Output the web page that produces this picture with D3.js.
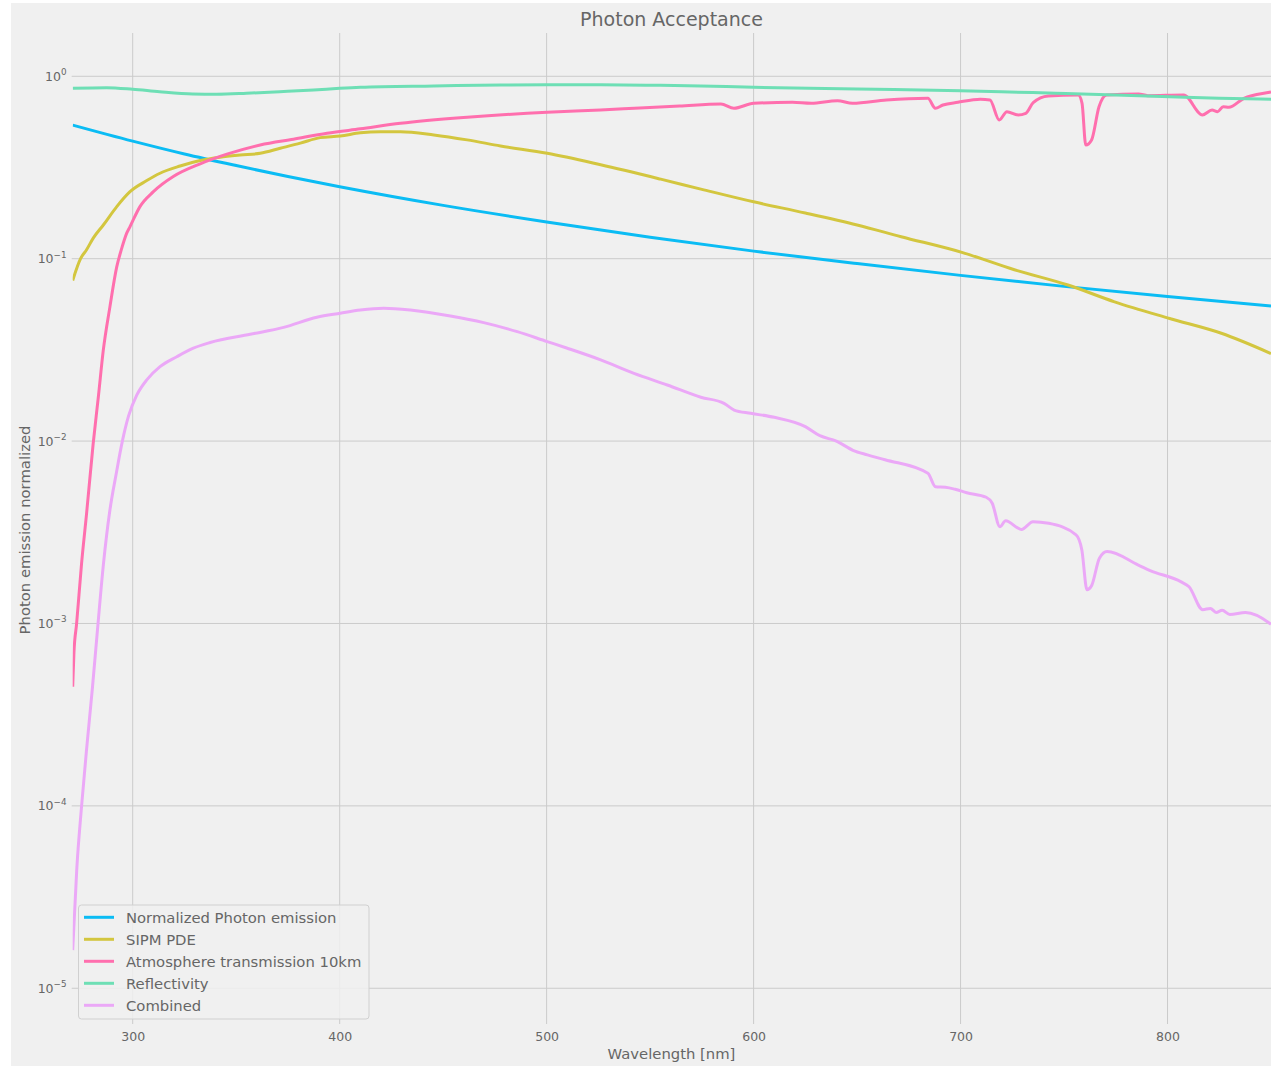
<!DOCTYPE html>
<html>
<head>
<meta charset="utf-8">
<script src="https://cdn.jsdelivr.net/npm/d3@7"></script>
<style>
  html, body { margin: 0; padding: 0; background: #ffffff; }
  svg { display: block; font-family: "DejaVu Sans", sans-serif; }
</style>
</head>
<body>
<svg id="chart" width="1271" height="1067"></svg>
<script>
// ---------------- DATA ----------------
const chartTitle = "Photon Acceptance";
const xLabel = "Wavelength [nm]";
const yLabel = "Photon emission normalized";
const xTickValues = [300, 400, 500, 600, 700, 800];
const yTickExponents = [0, -1, -2, -3, -4, -5];
const seriesNames = ["Normalized Photon emission", "SIPM PDE", "Atmosphere transmission 10km", "Reflectivity", "Combined"];
const seriesColors = ["#0bbcf4", "#d3c63f", "#ff6fae", "#6edfb5", "#eba8f7"];

// [wavelength nm, value]
const photonEmission = [
  [271, 0.540], [300, 0.441], [325, 0.375], [350, 0.324], [375, 0.282], [400, 0.248],
  [450, 0.196], [500, 0.159], [550, 0.131], [600, 0.110], [650, 0.094], [700, 0.081],
  [750, 0.0705], [800, 0.062], [850, 0.0550]
];
const sipmPDE = [
  [271, 0.076], [274.8, 0.100], [277.7, 0.112], [281, 0.130], [285.8, 0.153], [292.3, 0.193],
  [298.7, 0.233], [306.8, 0.268], [313.2, 0.294], [322.9, 0.322], [332.6, 0.345], [342.2, 0.360],
  [351.9, 0.370], [361.6, 0.378], [371.3, 0.403], [381, 0.430], [390.6, 0.461], [400.3, 0.470],
  [410, 0.490], [419.7, 0.497], [429.4, 0.497], [445.5, 0.477], [461.6, 0.448], [477.7, 0.415],
  [500.3, 0.378], [526.1, 0.327], [555.1, 0.273], [575, 0.240], [600, 0.205], [625, 0.178],
  [650, 0.153], [671.3, 0.132], [701, 0.108], [726, 0.087], [751.9, 0.0717], [774.4, 0.058],
  [801, 0.047], [826, 0.039], [850, 0.0302]
];
const atmosphere = [
  [271, 0.00045], [271.6, 0.00069], [272.9, 0.0010], [275.3, 0.00214], [277.7, 0.0040],
  [280.9, 0.0097], [283.4, 0.0175], [285.8, 0.0316], [289, 0.0546], [292.3, 0.0904],
  [294.5, 0.112], [297.1, 0.138], [298.7, 0.150], [303.5, 0.193], [310, 0.233], [319.6, 0.282],
  [332.6, 0.331], [345.5, 0.374], [361.6, 0.420], [377.7, 0.452], [393.9, 0.487], [410, 0.515],
  [429.4, 0.552], [461.6, 0.596], [500.3, 0.635], [526, 0.653], [545, 0.670], [564.2, 0.687],
  [584.2, 0.705], [590.5, 0.668], [600, 0.711], [618.7, 0.720], [627.8, 0.711], [640.5, 0.735],
  [647.8, 0.711], [664.2, 0.741], [684.2, 0.757], [687.8, 0.668], [691.5, 0.696], [698.7, 0.720],
  [709.6, 0.748], [714.2, 0.741], [718.7, 0.576], [722.4, 0.640], [727.8, 0.614], [731.5, 0.627],
  [735.1, 0.717], [742.4, 0.780], [756.9, 0.790], [758.7, 0.711], [760.5, 0.420], [763.3, 0.448],
  [766.9, 0.681], [770.5, 0.790], [786, 0.800], [790.5, 0.783], [807.8, 0.790], [816.9, 0.614],
  [821.5, 0.653], [824.2, 0.640], [826.9, 0.681], [829.6, 0.676], [836.9, 0.757], [849.3, 0.817],
  [850, 0.820]
];
const reflectivity = [
  [271, 0.859], [287.4, 0.866], [300, 0.849], [313, 0.823], [329, 0.800], [340.6, 0.797],
  [355, 0.807], [371, 0.823], [387.4, 0.841], [400, 0.859], [410, 0.870], [445.5, 0.885],
  [478, 0.896], [500, 0.900], [526, 0.900], [555, 0.893], [574.5, 0.885], [600, 0.870],
  [650, 0.852], [700, 0.834], [719.6, 0.823], [746, 0.807], [775, 0.790], [801, 0.773],
  [825, 0.758], [850, 0.748]
];
const combined = [
  [271, 1.62e-5], [273, 4.57e-5], [275.3, 1.0e-4], [277.7, 2.04e-4], [280.5, 4.4e-4],
  [283, 9.3e-4], [285.8, 2.09e-3], [289, 4.2e-3], [292, 6.6e-3], [295, 0.0100],
  [298, 0.01374], [302, 0.0179], [307, 0.0218], [313.2, 0.0256], [321.3, 0.0290], [329.3, 0.0323],
  [337.4, 0.0347], [356.8, 0.0385], [372.9, 0.0420], [389, 0.0477], [400.3, 0.0502],
  [410, 0.0523], [421.3, 0.0535], [434.2, 0.0523], [453.5, 0.0485], [469.6, 0.0446],
  [485.8, 0.0398], [500.3, 0.0351], [510, 0.0323], [526.1, 0.0279], [542.2, 0.0235],
  [558.3, 0.0203], [574.5, 0.0174], [585.7, 0.0161], [590.6, 0.0148], [598.6, 0.0142],
  [610, 0.0135], [625, 0.0120], [632, 0.0107], [640, 0.0100], [648, 0.0089], [655, 0.0084],
  [663.5, 0.0079], [684.2, 6.66e-3], [687.9, 5.62e-3], [692.7, 5.58e-3], [697.4, 5.44e-3],
  [703, 5.21e-3], [712.4, 4.92e-3], [715.3, 4.56e-3], [719, 3.39e-3], [721.8, 3.66e-3],
  [729.4, 3.28e-3], [735, 3.61e-3], [742.6, 3.54e-3], [755.8, 3.06e-3], [758.6, 2.53e-3],
  [761.1, 1.53e-3], [763.3, 1.61e-3], [767.1, 2.28e-3], [770.8, 2.48e-3], [785.9, 2.09e-3],
  [791.6, 1.95e-3], [806.6, 1.69e-3], [810.4, 1.59e-3], [817, 1.19e-3], [820.7, 1.21e-3],
  [823.5, 1.15e-3], [826.4, 1.18e-3], [830.1, 1.12e-3], [837.7, 1.15e-3], [849.5, 1.0e-3],
  [850, 0.99e-3]
];
const seriesData = [photonEmission, sipmPDE, atmosphere, reflectivity, combined];

// ---------------- LAYOUT ----------------
const W = 1271, H = 1067;
const plot = { left: 72.7, right: 1271, top: 33, bottom: 1020 };
const svg = d3.select("#chart");

// figure background
svg.append("rect").attr("x", 11).attr("y", 3).attr("width", W - 11).attr("height", 1063)
  .attr("fill", "#f0f0f0");

const x = d3.scaleLinear().domain([271, 850]).range([plot.left, plot.right]);
const y = d3.scaleLog().domain([6.7e-6, 1.727]).range([plot.bottom, plot.top]);

// grid
const grid = svg.append("g");
grid.selectAll("line.vx").data(xTickValues).enter().append("line")
  .attr("x1", d => x(d)).attr("x2", d => x(d))
  .attr("y1", plot.top).attr("y2", plot.bottom + 4)
  .attr("stroke", "#cbcbcb").attr("stroke-width", 1);
grid.selectAll("line.hy").data(yTickExponents).enter().append("line")
  .attr("x1", plot.left - 1).attr("x2", plot.right)
  .attr("y1", d => y(Math.pow(10, d))).attr("y2", d => y(Math.pow(10, d)))
  .attr("stroke", "#cbcbcb").attr("stroke-width", 1);

// x axis labels via d3 axis
const xAxis = d3.axisBottom(x).tickValues(xTickValues).tickSize(0).tickPadding(12);
const gx = svg.append("g").attr("transform", `translate(0,${plot.bottom})`).call(xAxis);
gx.select(".domain").remove();
gx.selectAll("text").attr("font-family", "DejaVu Sans, sans-serif")
  .attr("font-size", 12.5).attr("fill", "#666");

// y tick labels: 10^k
const sup = d => (d < 0 ? "\u2212" + Math.abs(d) : String(d));
const gy = svg.append("g");
yTickExponents.forEach(e => {
  const t = gy.append("text")
    .attr("x", 66.5).attr("y", y(Math.pow(10, e)) + 4.5)
    .attr("text-anchor", "end").attr("fill", "#666")
    .attr("font-size", 12.5);
  t.append("tspan").text("10");
  t.append("tspan").attr("dy", -5.5).attr("font-size", 8.8).text(sup(e));
});

// lines
svg.append("clipPath").attr("id", "clip").append("rect")
  .attr("x", plot.left).attr("y", plot.top)
  .attr("width", plot.right - plot.left).attr("height", plot.bottom - plot.top);
const line = d3.line().x(d => x(d[0])).y(d => y(d[1])).curve(d3.curveMonotoneX);
const lines = svg.append("g").attr("clip-path", "url(#clip)");
seriesData.forEach((s, i) => {
  lines.append("path").datum(s).attr("d", line)
    .attr("fill", "none").attr("stroke", seriesColors[i])
    .attr("stroke-width", 3).attr("stroke-linejoin", "round").attr("stroke-linecap", "butt");
});

// title & axis labels
svg.append("text").attr("x", 671.5).attr("y", 25.5).attr("text-anchor", "middle")
  .attr("font-size", 19).attr("fill", "#666").text(chartTitle);
svg.append("text").attr("x", 671.5).attr("y", 1059).attr("text-anchor", "middle")
  .attr("font-size", 14.8).attr("fill", "#666").text(xLabel);
svg.append("text").attr("transform", "translate(30,530) rotate(-90)").attr("text-anchor", "middle")
  .attr("font-size", 14.8).attr("fill", "#666").text(yLabel);

// legend
const lg = svg.append("g");
lg.append("rect").attr("x", 78.5).attr("y", 905).attr("width", 290.5).attr("height", 114)
  .attr("rx", 3).attr("fill", "#f0f0f0").attr("fill-opacity", 0.85)
  .attr("stroke", "#d0d0d0").attr("stroke-width", 1);
const legendY = d3.scalePoint().domain(seriesNames).range([917.3, 1005.3]);
seriesNames.forEach((n, i) => {
  lg.append("line").attr("x1", 84).attr("x2", 114)
    .attr("y1", legendY(n)).attr("y2", legendY(n))
    .attr("stroke", seriesColors[i]).attr("stroke-width", 3);
  lg.append("text").attr("x", 126).attr("y", legendY(n) + 5.2)
    .attr("font-size", 14.8).attr("fill", "#666").text(n);
});
</script>
</body>
</html>
